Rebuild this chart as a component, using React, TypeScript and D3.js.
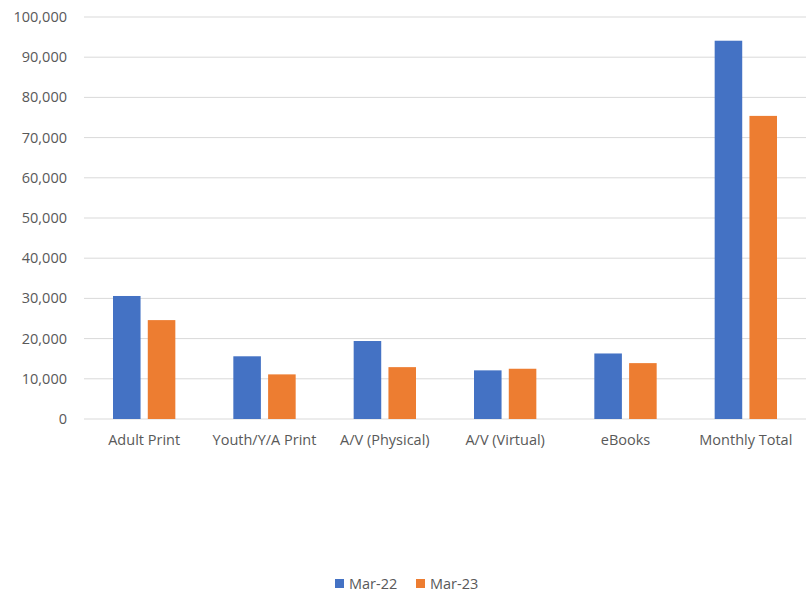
import React from "react";
import * as d3 from "d3";

const categories = ["Adult Print", "Youth/Y/A Print", "A/V (Physical)", "A/V (Virtual)", "eBooks", "Monthly Total"];
const seriesNames = ["Mar-22", "Mar-23"];
const mar22 = [30600, 15600, 19400, 12100, 16300, 94100];
const mar23 = [24600, 11100, 12900, 12500, 13900, 75400];
const yTicks = [0, 10000, 20000, 30000, 40000, 50000, 60000, 70000, 80000, 90000, 100000];
const colors = ["#4472C4", "#ED7D31"];

const W = 807, H = 592;
const left = 84, right = 806, top = 17, bottom = 419;
const font = "'Open Sans', 'Noto Sans', sans-serif";

export default function App() {
  const x = d3.scaleBand().domain(categories).range([left, right]);
  const y = d3.scaleLinear().domain([0, 100000]).range([bottom, top]);
  const bw = x.bandwidth() * 0.229;
  const gap = x.bandwidth() * 0.06;
  const fmt = d3.format(",");
  const series = [mar22, mar23];
  return (
    <svg width={W} height={H} style={{ position: "absolute", left: 0, top: 0, background: "#fff" }} fontFamily={font}>
      {yTicks.map((t) => (
        <g key={t}>
          <line x1={left} x2={right} y1={y(t)} y2={y(t)} stroke="#d9d9d9" strokeWidth={1} />
          <text x={67} y={y(t)} dy="0.35em" textAnchor="end" fontSize={14.5} fill="#595959">{fmt(t)}</text>
        </g>
      ))}
      {series.map((vals, si) =>
        vals.map((v, i) => {
          const c = x(categories[i])! + x.bandwidth() / 2;
          const bx = si === 0 ? c - gap / 2 - bw : c + gap / 2;
          return <rect key={si + "-" + i} x={bx} y={y(v)} width={bw} height={y(0) - y(v)} fill={colors[si]} />;
        })
      )}
      {categories.map((c) => (
        <text key={c} x={x(c)! + x.bandwidth() / 2} y={440} dy="0.35em" textAnchor="middle" fontSize={14.5} fill="#595959">{c}</text>
      ))}
      {seriesNames.map((s, i) => {
        const lx = i === 0 ? 335 : 416;
        return (
          <g key={s}>
            <rect x={lx} y={579} width={9} height={9} fill={colors[i]} />
            <text x={lx + 14} y={583.5} dy="0.35em" fontSize={14.5} fill="#595959">{s}</text>
          </g>
        );
      })}
    </svg>
  );
}
